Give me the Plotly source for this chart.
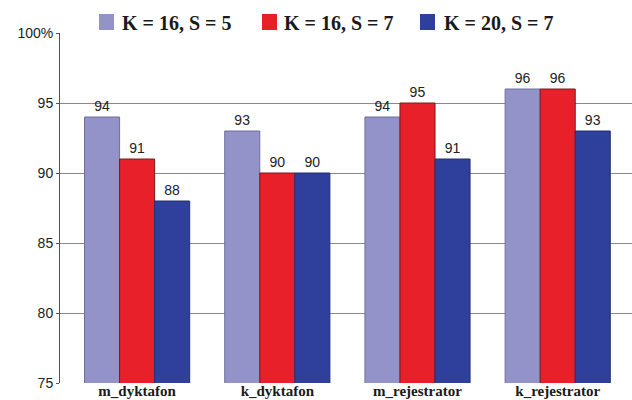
import plotly.graph_objects as go

categories = ["m_dyktafon", "k_dyktafon", "m_rejestrator", "k_rejestrator"]
series_names = ["K = 16, S = 5", "K = 16, S = 7", "K = 20, S = 7"]
series_values = [
    [94, 93, 94, 96],
    [91, 90, 95, 96],
    [88, 90, 91, 93],
]
series_colors = ["#9393c9", "#e8202a", "#2e409b"]
outline_colors = ["#6f6f9a", "#7a1a1e", "#22306f"]
tick_vals = [75, 80, 85, 90, 95, 100]
tick_text = ["75", "80", "85", "90", "95", "100%"]

W, H = 632, 400
ML, MR, MT, MB = 60, 0, 33, 17
PW, PH = W - ML - MR, H - MT - MB


def px_x(px):
    return (px - ML) / PW


def px_y(py):
    return (H - MB - py) / PH


fig = go.Figure()
for name, vals, col, oc in zip(series_names, series_values, series_colors, outline_colors):
    fig.add_trace(go.Bar(
        x=list(range(len(categories))),
        y=vals,
        name=name,
        marker=dict(color=col, line=dict(color=oc, width=1)),
        text=[str(v) for v in vals],
        textposition="outside",
        textfont=dict(family="Liberation Sans, Arial", size=14, color="#222222"),
        cliponaxis=False,
    ))

# Legend row drawn as swatches + labels across the top
legend_swatch_left = [99, 262, 420]
legend_text_left = [120, 282, 442]
shapes = []
annotations = []
for name, col, sx, tx in zip(series_names, series_colors, legend_swatch_left, legend_text_left):
    shapes.append(dict(
        type="rect", xref="paper", yref="paper",
        x0=px_x(sx), x1=px_x(sx + 15), y0=px_y(30), y1=px_y(14),
        fillcolor=col, line=dict(width=0),
    ))
    annotations.append(dict(
        xref="paper", yref="paper", x=px_x(tx), y=px_y(23),
        xanchor="left", yanchor="middle", showarrow=False,
        text="<b>%s</b>" % name,
        font=dict(family="Liberation Serif, Times New Roman", size=20, color="#1a1a1a"),
    ))

fig.update_layout(
    width=W, height=H,
    margin=dict(l=ML, r=MR, t=MT, b=MB),
    paper_bgcolor="white",
    plot_bgcolor="white",
    barmode="group",
    bargap=0.25,
    bargroupgap=0,
    showlegend=False,
    shapes=shapes,
    annotations=annotations,
    xaxis=dict(
        range=[-0.55, 3.53],
        tickmode="array",
        tickvals=list(range(len(categories))),
        ticktext=["<b>%s</b>" % c for c in categories],
        tickfont=dict(family="Liberation Serif, Times New Roman", size=15, color="#1a1a1a"),
        showgrid=False, zeroline=False, showline=False, ticks="",
        ticklen=0, ticklabelstandoff=-3, automargin=False,
    ),
    yaxis=dict(
        range=[75, 100],
        tickmode="array",
        tickvals=tick_vals,
        ticktext=tick_text,
        tickfont=dict(family="Liberation Sans, Arial", size=14, color="#222222"),
        showgrid=True, gridcolor="#8f8585", gridwidth=1,
        zeroline=False,
        showline=True, linecolor="#5a5050", linewidth=1,
        ticks="outside", ticklen=3, tickcolor="#5a5050",
        automargin=False,
    ),
)

fig.write_html("out.html")
